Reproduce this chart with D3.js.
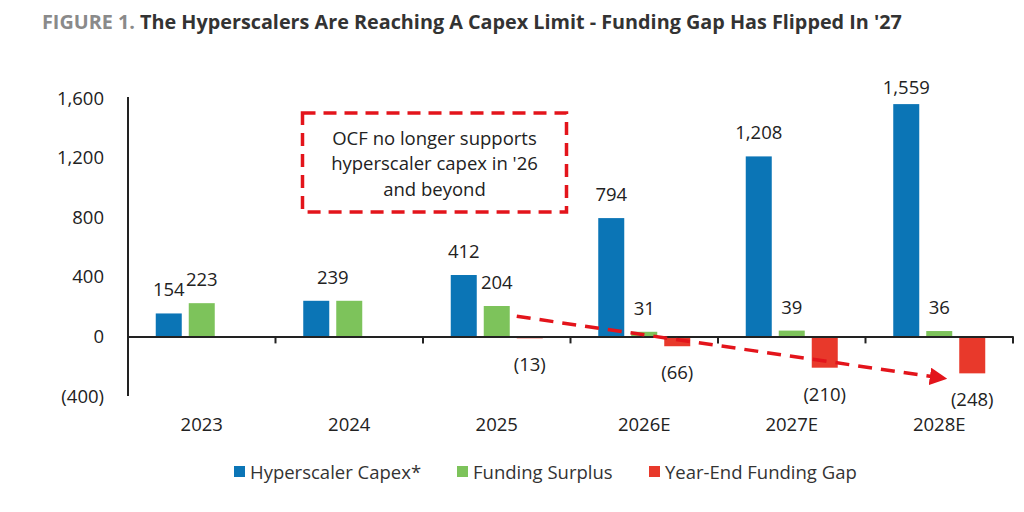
<!DOCTYPE html>
<html>
<head>
<meta charset="utf-8">
<script src="https://cdn.jsdelivr.net/npm/d3@7.9.0/dist/d3.min.js"></script>
<style>
  body { margin: 0; background: #fff; }
  svg { display: block; font-family: "Open Sans", sans-serif; }
</style>
</head>
<body>
<svg id="chart" width="1024" height="512"></svg>
<script>
const years = ['2023', '2024', '2025', '2026E', '2027E', '2028E'];
const capex = [154, 239, 412, 794, 1208, 1559];
const surplus = [223, 239, 204, 31, 39, 36];
const gap = [null, null, -13, -66, -210, -248];
const yTicks = [-400, 0, 400, 800, 1200, 1600];
const seriesKeys = ['capex', 'surplus', 'gap'];
const seriesNames = ['Hyperscaler Capex*', 'Funding Surplus', 'Year-End Funding Gap'];
const seriesColors = ['#0b75b6', '#7dc35b', '#e8392b'];
const noteLines = ['OCF no longer supports', "hyperscaler capex in '26", 'and beyond'];

const rows = years.map((year, i) => ({ year, capex: capex[i], surplus: surplus[i], gap: gap[i] }));

const svg = d3.select('#chart');
const color = d3.scaleOrdinal(seriesKeys, seriesColors);

const x0 = d3.scaleBand().domain(years).range([128, 1013]);
const x1 = d3.scaleBand().domain(seriesKeys).range([-46, 46]).paddingInner(0.212);
const y = d3.scaleLinear().domain([-400, 1600]).range([396, 98]);

const fmt = (v) => (v < 0 ? `(${d3.format(',')(-v)})` : d3.format(',')(v));
const fs = 18.5;

// title
const title = svg.append('text')
  .attr('x', 42).attr('y', 29)
  .attr('font-size', 19.8).attr('font-weight', 700);
title.append('tspan').attr('fill', '#8a8a8a').text('FIGURE 1. ');
title.append('tspan').attr('fill', '#333')
  .text("The Hyperscalers Are Reaching A Capex Limit - Funding Gap Has Flipped In '27");

// y axis labels
svg.append('g')
  .selectAll('text')
  .data(yTicks)
  .join('text')
  .attr('x', 104)
  .attr('y', (d) => y(d) + 6.5)
  .attr('text-anchor', 'end')
  .attr('font-size', fs)
  .attr('fill', '#222')
  .text(fmt);

// bars
const groups = svg.append('g')
  .selectAll('g')
  .data(rows)
  .join('g')
  .attr('transform', (d) => `translate(${x0(d.year) + x0.bandwidth() / 2},0)`);

groups.selectAll('rect')
  .data((d) => seriesKeys.filter((k) => d[k] != null).map((k) => ({ key: k, value: d[k] })))
  .join('rect')
  .attr('x', (d) => x1(d.key))
  .attr('width', x1.bandwidth())
  .attr('y', (d) => y(Math.max(0, d.value)))
  .attr('height', (d) => Math.abs(y(d.value) - y(0)))
  .attr('fill', (d) => color(d.key));

// value labels
groups.each(function (d) {
  const g = d3.select(this);
  const labels = [];
  if (d.capex === d.surplus) {
    labels.push({ x: (x1('capex') + x1('surplus') + x1.bandwidth()) / 2, value: d.capex });
  } else {
    labels.push({ x: x1('capex') + x1.bandwidth() / 2, value: d.capex });
    labels.push({ x: x1('surplus') + x1.bandwidth() / 2, value: d.surplus });
  }
  if (d.gap != null) labels.push({ x: x1('gap') + x1.bandwidth() / 2, value: d.gap });
  g.selectAll('text.val')
    .data(labels)
    .join('text')
    .attr('class', 'val')
    .attr('x', (l) => l.x)
    .attr('y', (l) => (l.value >= 0 ? Math.max(y(l.value) - 17, 94) : y(l.value) + 33))
    .attr('text-anchor', 'middle')
    .attr('font-size', fs)
    .attr('fill', '#222')
    .text((l) => fmt(l.value));
});

// axes lines
svg.append('line')
  .attr('x1', 128).attr('x2', 128)
  .attr('y1', y(1600) - 1).attr('y2', y(-400))
  .attr('stroke', '#222').attr('stroke-width', 2);

const xAxis = svg.append('g')
  .attr('transform', `translate(0,${y(0)})`)
  .call(d3.axisBottom(x0).tickSize(0).tickFormat(''));
xAxis.select('.domain').attr('stroke', '#222').attr('stroke-width', 2);
xAxis.selectAll('.boundary')
  .data(years.map((yr) => x0(yr) + x0.bandwidth()))
  .join('line')
  .attr('class', 'boundary')
  .attr('x1', (d) => d).attr('x2', (d) => d)
  .attr('y1', 0).attr('y2', 7)
  .attr('stroke', '#222').attr('stroke-width', 2);

// category labels
svg.append('g')
  .selectAll('text')
  .data(years)
  .join('text')
  .attr('x', (d) => x0(d) + x0.bandwidth() / 2)
  .attr('y', 430.5)
  .attr('text-anchor', 'middle')
  .attr('font-size', fs)
  .attr('fill', '#222')
  .text((d) => d);

// annotation box
const boxX = x0('2024') + 27;
const boxW = x0('2026E') - 4 - boxX;
svg.append('rect')
  .attr('x', boxX).attr('y', y(1500))
  .attr('width', boxW).attr('height', y(835) - y(1500))
  .attr('fill', 'none')
  .attr('stroke', '#e3141b').attr('stroke-width', 3.5)
  .attr('stroke-dasharray', '13,8');

svg.append('g')
  .selectAll('text')
  .data(noteLines)
  .join('text')
  .attr('x', boxX + boxW / 2)
  .attr('y', (d, i) => 144.5 + i * 25.5)
  .attr('text-anchor', 'middle')
  .attr('font-size', fs)
  .attr('fill', '#222')
  .text((d) => d);

// trend arrow
svg.append('defs').append('marker')
  .attr('id', 'arrow')
  .attr('viewBox', '0 0 10 10')
  .attr('refX', 10).attr('refY', 5)
  .attr('markerWidth', 5).attr('markerHeight', 5)
  .attr('markerUnits', 'strokeWidth')
  .attr('orient', 'auto')
  .append('path')
  .attr('d', 'M0,0L10,5L0,10Z')
  .attr('fill', '#e3141b');

svg.append('line')
  .attr('x1', x0('2025') + x0.bandwidth() / 2 + x1('gap'))
  .attr('y1', y(135))
  .attr('x2', x0('2028E') + x0.bandwidth() / 2 + x1('gap') - 12)
  .attr('y2', y(-285))
  .attr('stroke', '#e3141b').attr('stroke-width', 3.5)
  .attr('stroke-dasharray', '14,9')
  .attr('marker-end', 'url(#arrow)');

// legend
const legend = svg.append('g').attr('transform', 'translate(0,472)');
const legendX = [234, 457, 649];
seriesKeys.forEach((k, i) => {
  legend.append('rect')
    .attr('x', legendX[i]).attr('y', -6)
    .attr('width', 11).attr('height', 11)
    .attr('fill', color(k));
  legend.append('text')
    .attr('x', legendX[i] + 16).attr('y', 6.5)
    .attr('font-size', 18.5)
    .attr('fill', '#333')
    .text(seriesNames[i]);
});
</script>
</body>
</html>
